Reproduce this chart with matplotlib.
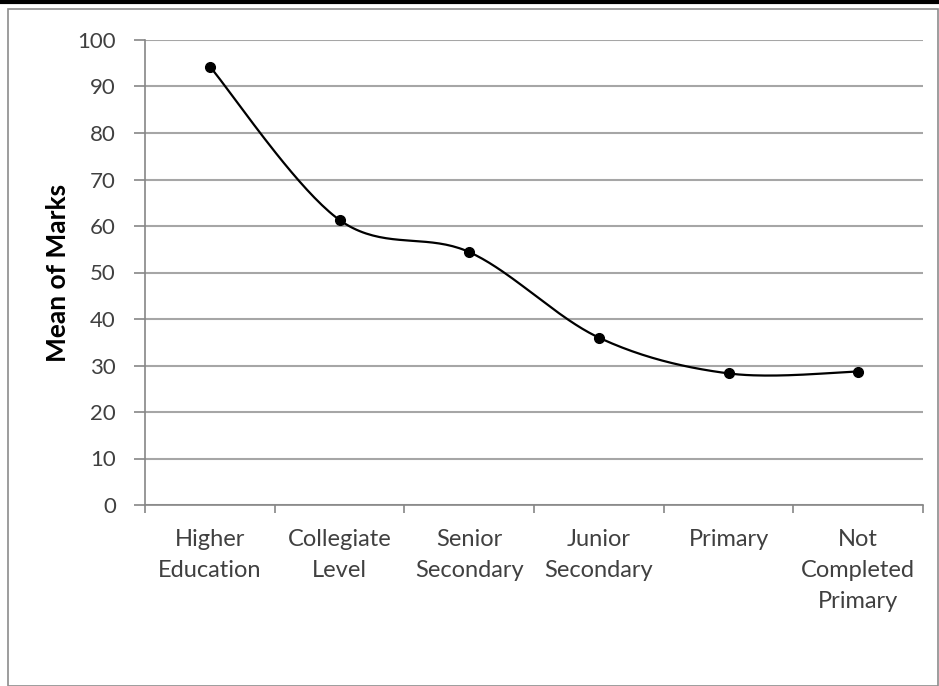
import numpy as np
import matplotlib
matplotlib.use("Agg")
import matplotlib.pyplot as plt
from matplotlib.patches import Rectangle
from matplotlib.lines import Line2D

# --- Data ---
CATEGORIES = ["Higher\nEducation", "Collegiate\nLevel", "Senior\nSecondary",
              "Junior\nSecondary", "Primary", "Not\nCompleted\nPrimary"]
MEAN_MARKS = [94.3, 61.3, 54.4, 36.0, 28.3, 28.7]
Y_TICKS = list(range(0, 101, 10))

FONT = "Lato"
TEXT_COLOR = "#404040"
GRID_COLOR = "#a6a6a6"


def smooth_curve(x, y, n=40):
    """Excel-style smoothed line: cubic Bezier segments with 1/6 tangent handles."""
    x = np.asarray(x, float)
    y = np.asarray(y, float)
    px = np.concatenate([[x[0]], x, [x[-1]]])
    py = np.concatenate([[y[0]], y, [y[-1]]])
    t = np.linspace(0, 1, n)[:, None]
    xs, ys = [], []
    for i in range(1, len(x)):
        p0 = np.array([px[i], py[i]])
        p3 = np.array([px[i + 1], py[i + 1]])
        c1 = p0 + (np.array([px[i + 1], py[i + 1]]) - np.array([px[i - 1], py[i - 1]])) / 6
        c2 = p3 - (np.array([px[i + 2], py[i + 2]]) - np.array([px[i], py[i]])) / 6
        b = ((1 - t) ** 3) * p0 + 3 * ((1 - t) ** 2) * t * c1 + 3 * (1 - t) * t ** 2 * c2 + t ** 3 * p3
        xs.append(b[:, 0])
        ys.append(b[:, 1])
    return np.concatenate(xs), np.concatenate(ys)


fig = plt.figure(figsize=(9.39, 6.86), dpi=100)
W, H = 939, 686

# chart area border and top rule
fig.patches.append(Rectangle((8 / W, 0), 930 / W, 1 - 9 / H, transform=fig.transFigure,
                             fill=False, edgecolor="#8c8c8c", linewidth=1.2))
fig.lines.append(Line2D([0, 1], [1 - 1.5 / H, 1 - 1.5 / H], transform=fig.transFigure,
                        color="black", linewidth=3))

left, right, top, bottom = 145, 923, 40, 505
ax = fig.add_axes([left / W, 1 - bottom / H, (right - left) / W, (bottom - top) / H])

x = np.arange(len(CATEGORIES))
sx, sy = smooth_curve(x, MEAN_MARKS)
ax.plot(sx, sy, color="black", linewidth=1.6, zorder=3)
ax.plot(x, MEAN_MARKS, "o", color="black", markersize=7, zorder=4)

ax.set_xlim(-0.5, len(CATEGORIES) - 0.5)
ax.set_ylim(0, 100)
ax.set_yticks(Y_TICKS)
ax.set_yticklabels([str(v) for v in Y_TICKS], fontsize=16, family=FONT, color=TEXT_COLOR)
ax.yaxis.grid(True, color=GRID_COLOR, linewidth=1.5)
ax.set_axisbelow(True)

# category labels centred, ticks on the category boundaries
ax.set_xticks(x)
ax.set_xticklabels(CATEGORIES, fontsize=17, family=FONT, color=TEXT_COLOR, linespacing=1.6)
ax.tick_params(axis="x", which="major", length=0, pad=17)
ax.set_xticks(np.arange(len(CATEGORIES) + 1) - 0.5, minor=True)
ax.tick_params(axis="x", which="minor", length=6, color="#868686", width=1.2, direction="out")
ax.tick_params(axis="y", length=8, color="#868686", width=1.2, direction="out", pad=13)

for side in ["top", "right"]:
    ax.spines[side].set_visible(False)
for side in ["left", "bottom"]:
    ax.spines[side].set_color("#868686")
    ax.spines[side].set_linewidth(1.2)

ax.set_ylabel("Mean of Marks", fontsize=19, family=FONT, fontweight="bold",
              color="black", labelpad=5)

fig.savefig("out.png", dpi=100)
